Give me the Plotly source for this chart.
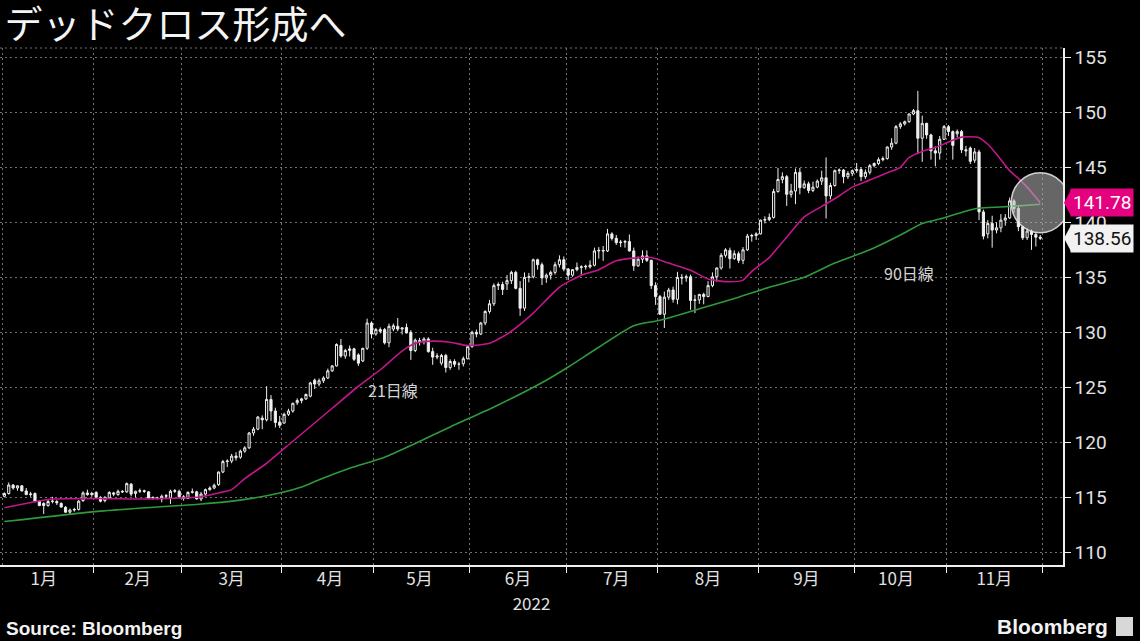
import pandas as pd
import plotly.graph_objects as go

# ---------------- data (USD/JPY daily candles, 2022) ----------------
trading_days = pd.bdate_range("2022-01-03", "2022-11-30")
dates = [d.strftime("%Y-%m-%d") + " 12:00" for d in trading_days]

open_ = [
    # Jan
    115.10, 115.35, 116.12, 115.85, 116.05, 115.58, 115.25, 115.35, 114.65, 114.45, 114.25,
    114.62, 114.62, 114.45, 114.10, 113.65, 113.85, 113.90, 114.70, 115.40, 115.25,
    # Feb
    115.45, 115.00, 114.70, 114.95, 115.40, 115.25, 115.55, 115.50, 116.20, 115.35,
    115.55, 115.60, 115.50, 114.95, 114.95, 114.85, 115.10, 114.95, 115.55, 115.55,
    # Mar
    115.05, 114.90, 115.45, 115.50, 114.85, 115.30, 115.70, 115.85, 116.15, 117.30, 118.25, 118.30,
    118.75, 118.65, 119.20, 119.50, 120.85, 121.20, 122.20, 122.05, 123.90, 122.85, 121.85,
    # Apr
    121.75, 122.55, 122.85, 123.60, 123.80, 123.95, 124.20, 125.65, 125.30, 125.60, 125.85,
    126.50, 126.95, 128.80, 127.85, 128.35, 128.50, 127.95, 127.40, 128.55, 130.85,
    # May
    129.85, 130.25, 130.25, 129.05, 130.30, 130.55, 130.30, 130.45, 130.00, 128.35, 129.25,
    129.15, 129.40, 128.25, 127.75, 127.20, 127.90, 126.80, 127.35, 127.10, 127.15, 127.60,
    # Jun
    128.70, 130.00, 129.85, 130.85, 131.90, 132.60, 134.25, 134.35, 134.40, 134.70, 135.45,
    134.00, 132.20, 135.00, 135.05, 136.60, 136.15, 134.95, 135.20, 135.45, 136.15, 136.60,
    # Jul
    135.75, 135.20, 135.70, 135.90, 135.95, 135.95, 136.10, 137.40, 137.45, 137.40, 138.95,
    138.55, 138.15, 138.20, 138.25, 137.40, 136.05, 136.65, 136.95, 136.55, 134.25,
    # Aug
    133.25, 131.65, 133.20, 133.85, 133.00, 135.00, 134.95, 135.05, 132.90, 132.95, 133.45, 133.25,
    134.25, 135.05, 135.85, 137.00, 137.45, 136.70, 137.15, 136.55, 137.50, 138.75, 138.80,
    # Sep
    138.95, 140.20, 140.25, 140.45, 142.80, 143.90, 144.15, 142.55, 142.85, 144.55, 143.15,
    143.50, 142.90, 143.20, 143.75, 144.05, 142.40, 143.35, 144.70, 144.75, 144.15, 144.45,
    # Oct
    144.70, 144.80, 144.15, 144.55, 145.15, 145.35, 145.70, 145.80, 146.85, 147.20, 148.70,
    148.95, 149.15, 149.85, 150.15, 147.65, 149.00, 147.95, 146.50, 146.30, 147.55,
    # Nov
    148.70, 148.25, 148.05, 148.25, 146.60, 146.75, 145.65, 146.40, 140.95, 138.95, 139.90,
    139.30, 139.50, 140.20, 140.40, 141.95, 141.25, 139.60, 138.60, 139.20, 138.90, 138.65,
]
high = [
    115.45, 116.35, 116.20, 116.10, 116.10, 115.85, 115.50, 115.45, 114.75, 114.55, 114.80,
    115.05, 114.75, 114.55, 114.20, 113.98, 114.05, 114.75, 115.55, 115.70, 115.50,
    115.55, 115.10, 115.10, 115.55, 115.50, 115.70, 115.65, 116.35, 116.30, 115.60,
    115.80, 115.70, 115.55, 115.10, 115.05, 115.25, 115.30, 115.70, 115.75, 115.70,
    115.20, 115.55, 115.80, 115.60, 115.50, 115.80, 116.00, 116.25, 117.35, 118.40, 118.45, 118.95,
    119.10, 119.35, 119.65, 120.95, 121.40, 122.40, 122.45, 125.10, 124.30, 123.15, 122.40,
    122.70, 123.05, 123.60, 124.00, 124.05, 124.45, 125.50, 125.80, 125.80, 126.00, 126.70,
    127.00, 129.00, 129.40, 128.50, 128.80, 128.60, 128.10, 128.60, 131.25, 131.00,
    130.40, 130.45, 130.40, 130.80, 130.80, 131.30, 130.45, 130.80, 130.20, 129.45, 129.50,
    129.55, 129.55, 128.60, 128.10, 128.05, 128.05, 127.55, 127.55, 127.30, 127.80, 128.85,
    130.15, 130.25, 130.95, 132.00, 132.95, 134.45, 134.55, 134.60, 135.20, 135.60, 135.60,
    134.65, 135.45, 135.40, 136.70, 136.70, 136.35, 135.35, 135.60, 136.40, 137.00, 136.90,
    135.85, 135.75, 136.35, 136.10, 136.15, 136.55, 137.70, 137.75, 137.85, 139.40, 139.10,
    138.85, 138.40, 138.40, 138.90, 137.70, 136.90, 137.45, 137.45, 136.60, 134.55,
    133.40, 133.70, 134.05, 134.15, 135.50, 135.30, 135.25, 135.25, 133.40, 133.50, 133.60, 134.65,
    135.45, 135.90, 137.20, 137.65, 137.70, 137.45, 137.35, 137.75, 138.95, 138.95, 139.10,
    140.25, 140.55, 140.80, 143.05, 144.95, 144.55, 144.30, 143.50, 144.90, 144.95, 143.80,
    143.70, 143.70, 143.90, 144.70, 145.90, 143.60, 144.80, 144.90, 144.85, 144.65, 144.80,
    145.40, 145.00, 144.80, 145.30, 145.45, 145.90, 146.00, 146.90, 147.65, 148.85, 149.10,
    149.25, 149.90, 150.30, 151.95, 149.70, 149.05, 148.05, 146.90, 147.85, 148.85,
    148.85, 148.35, 148.45, 148.40, 146.95, 146.90, 146.75, 146.60, 141.15, 140.20, 140.60,
    140.00, 140.75, 140.75, 142.25, 142.10, 141.60, 139.70, 139.45, 139.35, 139.10, 138.85,
]
low = [
    115.00, 115.25, 115.70, 115.60, 115.55, 115.20, 115.05, 114.55, 114.20, 113.48, 114.15,
    114.45, 114.30, 114.05, 113.60, 113.47, 113.70, 113.80, 114.60, 115.15, 115.05,
    114.95, 114.55, 114.55, 114.85, 115.10, 115.15, 115.40, 115.40, 115.10, 115.00,
    115.40, 115.40, 114.85, 114.80, 114.80, 114.55, 114.95, 114.40, 115.40, 114.95,
    114.70, 114.85, 115.35, 114.80, 114.65, 115.10, 115.60, 115.75, 116.05, 117.20, 117.75, 118.10,
    118.35, 118.50, 119.05, 119.40, 120.60, 121.10, 121.20, 121.90, 121.95, 121.35, 121.30,
    121.70, 122.40, 122.70, 123.40, 123.55, 123.85, 124.10, 124.85, 125.10, 125.40, 125.75,
    126.40, 126.90, 127.70, 127.60, 127.80, 127.40, 126.95, 127.30, 128.40, 129.45,
    129.70, 129.90, 128.90, 128.65, 130.10, 130.10, 129.80, 129.90, 127.50, 128.20, 128.80,
    128.90, 128.15, 127.05, 127.55, 127.00, 126.35, 126.60, 126.85, 126.60, 126.90, 127.55,
    128.60, 129.55, 129.75, 130.65, 131.70, 132.40, 133.85, 133.40, 133.85, 134.40, 133.90,
    131.50, 131.95, 134.55, 134.90, 135.70, 134.30, 134.50, 134.80, 135.25, 135.90, 135.55,
    134.75, 135.05, 135.55, 135.25, 135.70, 135.80, 136.00, 136.70, 136.50, 137.30, 138.35,
    137.95, 137.75, 137.70, 137.35, 135.60, 135.95, 136.30, 136.40, 133.95, 132.50,
    131.60, 130.40, 132.95, 132.70, 132.55, 134.35, 134.60, 132.05, 131.75, 132.60, 132.55, 133.20,
    134.10, 134.60, 135.70, 136.80, 135.80, 136.60, 136.30, 136.20, 137.40, 138.25, 138.40,
    138.90, 139.90, 140.10, 140.35, 142.70, 143.55, 141.50, 142.25, 141.65, 142.55, 143.05,
    142.65, 142.75, 143.10, 143.40, 140.35, 142.10, 143.25, 144.40, 143.55, 143.95, 144.20,
    144.50, 143.75, 143.95, 144.35, 145.00, 145.20, 145.55, 145.70, 146.60, 147.10, 148.50,
    148.80, 149.05, 149.75, 146.20, 145.50, 147.60, 145.70, 145.10, 145.70, 147.50,
    147.85, 145.70, 147.70, 146.30, 146.00, 145.30, 145.40, 140.20, 138.45, 138.55, 137.70,
    139.00, 139.10, 139.70, 140.30, 140.85, 139.20, 138.40, 138.40, 137.50, 137.80, 138.40,
]
close = [
    115.35, 116.12, 115.85, 116.05, 115.58, 115.25, 115.30, 114.65, 114.25, 114.25, 114.62,
    114.65, 114.50, 114.12, 113.65, 113.85, 113.90, 114.65, 115.40, 115.25, 115.35,
    115.00, 114.65, 115.00, 115.45, 115.30, 115.55, 115.50, 116.25, 115.30, 115.55,
    115.60, 115.55, 114.95, 114.98, 114.90, 115.10, 115.15, 115.55, 115.60, 115.05,
    114.90, 115.45, 115.50, 114.85, 115.30, 115.70, 115.85, 116.10, 117.30, 118.25, 118.30, 118.75,
    118.60, 119.20, 119.50, 120.85, 121.20, 122.30, 122.05, 123.90, 122.85, 121.80, 121.55,
    122.55, 122.85, 123.55, 123.80, 123.95, 124.35, 125.40, 125.30, 125.60, 125.85, 126.50,
    126.95, 128.90, 127.85, 128.35, 128.50, 127.55, 127.20, 128.55, 130.85, 129.85,
    130.25, 130.10, 129.05, 130.55, 130.60, 130.30, 130.40, 129.95, 128.35, 129.30, 129.15,
    129.40, 128.25, 127.75, 127.85, 127.90, 126.80, 127.35, 127.10, 127.10, 127.60, 128.70,
    130.00, 129.85, 130.85, 131.90, 132.60, 134.25, 134.35, 133.90, 134.70, 135.45, 134.00,
    132.20, 135.00, 135.05, 136.60, 136.15, 134.95, 135.20, 135.45, 136.15, 136.60, 135.75,
    135.20, 135.70, 135.90, 135.95, 136.00, 136.10, 137.40, 137.45, 137.40, 138.95, 138.55,
    138.15, 138.20, 138.25, 137.40, 136.05, 136.65, 136.95, 136.55, 134.25, 133.25,
    131.65, 133.20, 133.85, 133.00, 135.00, 134.95, 135.05, 132.90, 132.95, 133.45, 133.25, 134.25,
    135.05, 135.85, 137.00, 137.50, 136.70, 137.15, 136.55, 137.50, 138.75, 138.80, 138.95,
    140.20, 140.25, 140.45, 142.80, 143.90, 144.15, 142.55, 142.85, 144.55, 143.15, 143.50,
    142.90, 143.20, 143.75, 144.05, 142.40, 143.35, 144.70, 144.75, 144.15, 144.45, 144.70,
    144.80, 144.15, 144.55, 145.15, 145.35, 145.70, 145.80, 146.85, 147.20, 148.70, 148.95,
    149.15, 149.85, 150.15, 147.65, 149.00, 147.95, 146.50, 146.30, 147.55, 148.70,
    148.25, 147.00, 148.25, 146.60, 146.50, 145.55, 146.40, 140.95, 138.75, 139.90, 139.30,
    139.50, 140.20, 140.40, 141.95, 141.25, 139.60, 138.60, 139.20, 138.90, 138.65, 138.56,
]

# moving averages (trading-day index -> value)
ma21_idx = [0, 7, 11, 22, 33, 45, 49, 52, 55, 60, 66, 75, 81, 86, 91, 94, 98, 102, 106, 111,
            114, 116, 121, 127, 132, 136, 140, 144, 148, 152, 157, 161, 166, 169, 171, 175,
            179, 183, 187, 191, 194, 198, 202, 205, 207, 210, 213, 216, 219, 223, 225, 227,
            230, 232, 234, 237]
ma21_val = [114.05, 114.6, 114.85, 114.9, 114.85, 115.05, 115.4, 115.7, 116.7, 118.1, 120.1,
            123.1, 125.1, 126.6, 128.3, 129.0, 129.2, 129.1, 128.8, 129.0, 129.6, 130.1,
            131.75, 134.1, 135.2, 135.7, 136.5, 136.75, 136.8, 136.3, 135.65, 134.85, 134.6,
            134.75, 135.55, 136.8, 138.65, 140.5, 141.45, 142.4, 143.2, 143.85, 144.5, 145.0,
            145.9, 146.45, 146.8, 147.3, 147.75, 147.7, 147.1, 146.2, 144.7, 144.0, 143.2,
            141.78]
ma90_idx = [0, 22, 45, 54, 63, 68, 72, 79, 87, 94, 102, 113, 124, 129, 136, 144, 150, 160,
            168, 175, 183, 190, 198, 205, 210, 214, 219, 223, 228, 232, 237]
ma90_val = [112.8, 113.75, 114.4, 114.75, 115.4, 115.95, 116.6, 117.65, 118.65, 119.9, 121.4,
            123.4, 125.65, 126.85, 128.65, 130.6, 131.1, 132.25, 133.2, 134.1, 135.0, 136.3,
            137.5, 138.85, 139.9, 140.3, 140.9, 141.3, 141.4, 141.5, 141.65]

TITLE = "デッドクロス形成へ"
YEAR_LABEL = "2022"

# ---------------- figure ----------------
TXT = "#e2e2e2"
MAGENTA = "#c2168a"
GREEN = "#2f9a3c"

fig = go.Figure()
fig.add_trace(go.Candlestick(
    x=dates, open=open_, high=high, low=low, close=close,
    increasing=dict(line=dict(color="#f0f0f0", width=1), fillcolor="#000000"),
    decreasing=dict(line=dict(color="#f0f0f0", width=1), fillcolor="#f0f0f0"),
    whiskerwidth=0, showlegend=False, hoverinfo="skip",
))
fig.add_trace(go.Scatter(
    x=[dates[i] for i in ma90_idx], y=ma90_val, mode="lines",
    line=dict(color=GREEN, width=1.6, shape="spline", smoothing=0.6),
    showlegend=False, hoverinfo="skip",
))
fig.add_trace(go.Scatter(
    x=[dates[i] for i in ma21_idx], y=ma21_val, mode="lines",
    line=dict(color=MAGENTA, width=1.6, shape="spline", smoothing=0.6),
    showlegend=False, hoverinfo="skip",
))

fig.update_layout(
    width=1140, height=641,
    paper_bgcolor="black", plot_bgcolor="black",
    margin=dict(l=0, r=77, t=48, b=76),
    showlegend=False,
    title=dict(text=TITLE, x=0.004, xanchor="left", y=1 - 25 / 641, yanchor="middle",
               font=dict(family="Noto Sans CJK JP", size=38, color="#f4f4f4")),
    xaxis=dict(
        type="date",
        range=["2021-12-31 12:00", "2022-12-07 17:00"],
        rangebreaks=[dict(bounds=["sat", "mon"])],
        rangeslider=dict(visible=False),
        dtick="M1", tick0="2022-01-01", ticklabelmode="period", tickformat="%-m月",
        showgrid=True, gridcolor="#707070", griddash="2px,3px", gridwidth=1,
        showline=True, linecolor="#f0f0f0", linewidth=1.5,
        ticks="outside", ticklen=6, tickcolor="#f0f0f0",
        ticklabelstandoff=-8,
        tickfont=dict(family="Noto Sans CJK JP", size=17, color=TXT),
        title=dict(text=YEAR_LABEL, standoff=6,
                   font=dict(family="Noto Sans CJK JP", size=17, color=TXT)),
        zeroline=False,
    ),
    yaxis=dict(
        side="right", range=[108.85, 155.85], tick0=110, dtick=5,
        showgrid=True, gridcolor="#707070", griddash="2px,3px", gridwidth=1,
        showline=True, linecolor="#f0f0f0", linewidth=1.5,
        ticks="outside", ticklen=6, tickcolor="#f0f0f0",
        tickfont=dict(family="Roboto", size=19, color=TXT),
        zeroline=False,
    ),
)

last_ma = ma21_val[-1]
last_close = close[-1]

fig.add_annotation(x=dates[89], y=124.75, text="21日線", showarrow=False,
                   font=dict(family="Noto Sans CJK JP", size=16, color="#d4d4d4"))
fig.add_annotation(x=dates[207], y=135.4, text="90日線", showarrow=False,
                   font=dict(family="Noto Sans CJK JP", size=16, color="#d4d4d4"))

# value tags on the right axis
fig.add_annotation(xref="paper", x=1, xanchor="left", xshift=7, y=last_ma, yanchor="middle",
                   text=f"{last_ma:.2f}", showarrow=False, bgcolor="#e4007f", borderpad=2,
                   font=dict(family="Roboto", size=19, color="white"))
fig.add_annotation(xref="paper", x=1, xanchor="left", xshift=7, y=last_close, yanchor="middle",
                   text=f"{last_close:.2f}", showarrow=False, bgcolor="#f2f2f2", borderpad=2,
                   font=dict(family="Roboto", size=19, color="#111111"))
for yv, col in [(last_ma, "#e4007f"), (last_close, "#f2f2f2")]:
    fig.add_shape(type="path", xref="paper", yref="y", xsizemode="pixel", ysizemode="pixel",
                  xanchor=1, yanchor=yv, path="M 1 0 L 8 13 L 8 -13 Z",
                  fillcolor=col, line=dict(width=0), layer="above")

# highlight circle at the crossing
fig.add_shape(type="circle", xref="x", yref="y", xsizemode="pixel", ysizemode="pixel",
              xanchor=dates[-1], yanchor=last_ma, x0=-29, x1=29, y0=-30, y1=30,
              fillcolor="rgba(185,185,185,0.55)", line=dict(color="rgba(235,235,235,0.85)", width=1.5),
              layer="above")

# top dotted border
fig.add_shape(type="line", xref="paper", yref="paper", x0=0, x1=1, y0=1, y1=1,
              line=dict(color="#707070", width=1, dash="2px,3px"))

fig.add_annotation(xref="paper", yref="paper", x=0, xshift=4, y=-0.122, xanchor="left",
                   yanchor="middle", text="<b>Source: Bloomberg</b>", showarrow=False,
                   font=dict(family="Liberation Sans", size=19, color="#f2f2f2"))
fig.add_annotation(xref="paper", yref="paper", x=1110 / 1063, y=-0.118, xanchor="right",
                   yanchor="middle", text="<b>Bloomberg</b>", showarrow=False,
                   font=dict(family="Liberation Sans", size=21, color="#f2f2f2"))
fig.add_shape(type="rect", xref="paper", yref="paper", x0=1116 / 1063, x1=1133 / 1063,
              y0=(565 - 636) / 517, y1=(565 - 617) / 517,
              fillcolor="#d8d8d8", line=dict(width=0))

fig.write_html("out.html", config={"displayModeBar": False},
               post_script="document.body.style.margin='0';")
